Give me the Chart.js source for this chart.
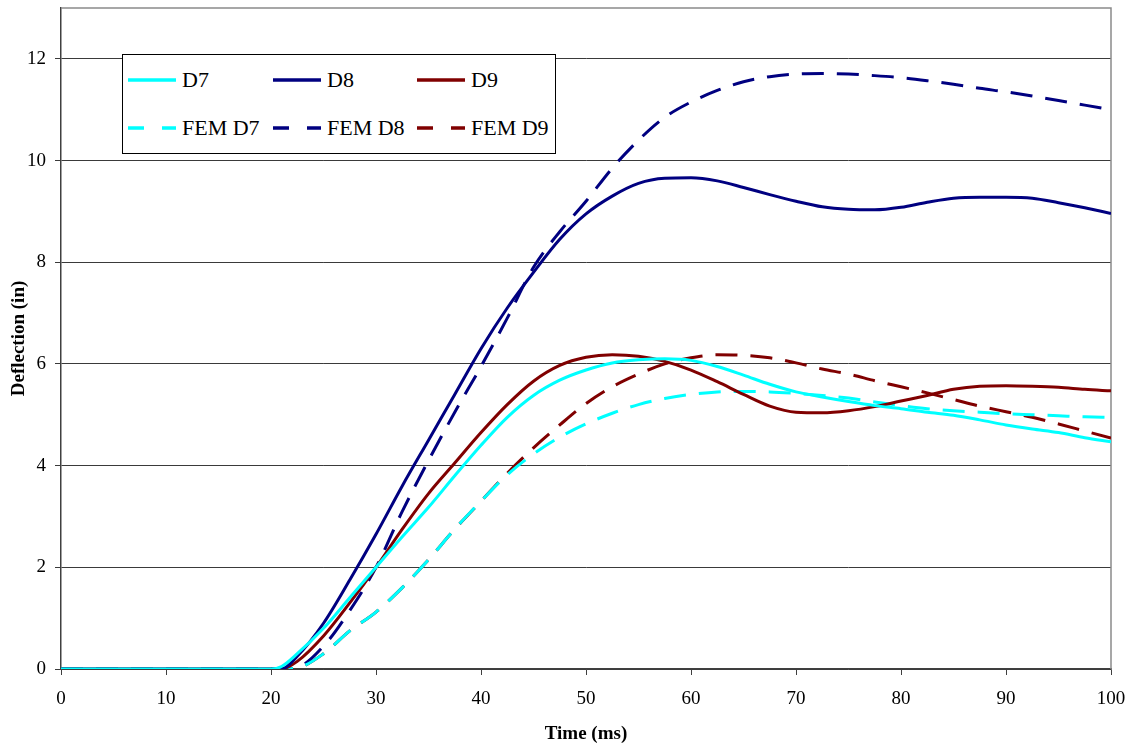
<!DOCTYPE html>
<html>
<head>
<meta charset="utf-8">
<script src="https://cdn.jsdelivr.net/npm/chart.js@4.4.1/dist/chart.umd.min.js"></script>
<style>
  body { margin: 0; background: #fff; }
  #wrap { position: relative; width: 1130px; height: 746px; }
  #legend {
    position: absolute; left: 122px; top: 54px; width: 432px; height: 98px;
    border: 1px solid #000; background: #fff;
    font-family: 'Liberation Serif', 'Times New Roman', serif; font-size: 22px;
    display: grid; grid-template-columns: 145px 144px 143px; grid-template-rows: 49px 48px;
  }
  .item { display: flex; align-items: center; padding-left: 5px; white-space: nowrap; }
  .item svg { margin-right: 6px; }
</style>
</head>
<body>
<div id="wrap">
  <canvas id="deflectionChart" width="1130" height="746"></canvas>
  <div id="legend"></div>
</div>
<script>
// Time axis (ms) shared by all series
const timeMs = [0, 10, 20, 21, 22.5, 25, 27.5, 30, 32.5, 35, 37.5, 40, 42.5, 45, 47.5, 50, 52.5, 55, 57.5, 60,
  62.5, 65, 67.5, 70, 72.5, 75, 77.5, 80, 82.5, 85, 87.5, 90, 92.5, 95, 97.5, 100];

// Measured deflections (in)
const d7 = [0, 0, 0, 0.05, 0.3, 0.8, 1.4, 2.0, 2.6, 3.18, 3.8, 4.4, 4.95, 5.38, 5.68, 5.88, 6.02, 6.08, 6.1, 6.07,
  5.95, 5.78, 5.6, 5.45, 5.35, 5.26, 5.18, 5.12, 5.05, 4.99, 4.9, 4.8, 4.72, 4.65, 4.55, 4.47];
const d8 = [0, 0, 0, 0, 0.25, 0.9, 1.75, 2.65, 3.6, 4.5, 5.4, 6.3, 7.1, 7.8, 8.45, 8.95, 9.3, 9.55, 9.65, 9.66,
  9.6, 9.47, 9.33, 9.2, 9.09, 9.04, 9.03, 9.08, 9.18, 9.26, 9.28, 9.28, 9.26, 9.17, 9.07, 8.96];
const d9 = [0, 0, 0, 0, 0.15, 0.65, 1.3, 2.0, 2.75, 3.45, 4.05, 4.65, 5.2, 5.66, 5.97, 6.13, 6.18, 6.15, 6.05, 5.88,
  5.65, 5.4, 5.17, 5.05, 5.04, 5.08, 5.16, 5.27, 5.38, 5.5, 5.56, 5.57, 5.56, 5.54, 5.5, 5.47];

// FEM predictions (in)
const femD7 = [0, 0, 0, 0, 0.02, 0.3, 0.75, 1.12, 1.6, 2.15, 2.75, 3.3, 3.82, 4.23, 4.56, 4.82, 5.03, 5.2, 5.32, 5.4,
  5.45, 5.46, 5.45, 5.42, 5.38, 5.33, 5.25, 5.18, 5.12, 5.08, 5.05, 5.02, 5.0, 4.98, 4.96, 4.95];
const femD8 = [0, 0, 0, 0, 0.03, 0.45, 1.15, 2.0, 3.1, 4.1, 5.05, 5.95, 6.9, 7.9, 8.6, 9.2, 9.85, 10.4, 10.85, 11.15,
  11.38, 11.55, 11.65, 11.7, 11.71, 11.7, 11.67, 11.63, 11.57, 11.5, 11.42, 11.35, 11.27, 11.18, 11.09, 11.0];
const femD9 = [0, 0, 0, 0, 0.02, 0.3, 0.75, 1.12, 1.6, 2.15, 2.75, 3.3, 3.85, 4.35, 4.8, 5.22, 5.55, 5.8, 6.0, 6.12,
  6.18, 6.17, 6.12, 6.02, 5.9, 5.8, 5.67, 5.55, 5.43, 5.3, 5.17, 5.06, 4.95, 4.82, 4.68, 4.54];

const xTicks = [0, 10, 20, 30, 40, 50, 60, 70, 80, 90, 100];
const yTicks = [0, 2, 4, 6, 8, 10, 12];

const serif = "'Liberation Serif', 'Times New Roman', serif";
const dash = [22, 13];

function series(label, values, color, dashed) {
  return {
    label,
    data: values.map((v, i) => ({ x: timeMs[i], y: v })),
    borderColor: color,
    backgroundColor: color,
    borderWidth: 3,
    borderDash: dashed ? dash : [],
    pointRadius: 0,
    cubicInterpolationMode: 'monotone',
    fill: false
  };
}

// grey frame on top and right of the plot area
const plotFrame = {
  id: 'plotFrame',
  beforeDatasetsDraw(chart) {
    const { ctx, chartArea: a } = chart;
    ctx.save();
    ctx.strokeStyle = '#8a8a8a';
    ctx.lineWidth = 1.5;
    ctx.beginPath();
    ctx.moveTo(a.left, a.top);
    ctx.lineTo(a.right, a.top);
    ctx.lineTo(a.right, a.bottom);
    ctx.stroke();
    ctx.restore();
  }
};

const chart = new Chart(document.getElementById('deflectionChart'), {
  type: 'line',
  data: {
    datasets: [
      series('D7', d7, '#00FFFF', false),
      series('D8', d8, '#000080', false),
      series('D9', d9, '#800000', false),
      series('FEM D7', femD7, '#00FFFF', true),
      series('FEM D8', femD8, '#000080', true),
      series('FEM D9', femD9, '#800000', true)
    ]
  },
  options: {
    responsive: false,
    animation: false,
    layout: { padding: { top: 8, right: 19, left: 0, bottom: 0 } },
    plugins: {
      legend: { display: false },
      tooltip: { enabled: false }
    },
    scales: {
      x: {
        type: 'linear',
        min: 0,
        max: 100,
        afterBuildTicks: s => { s.ticks = xTicks.map(v => ({ value: v })); },
        afterFit: s => { s.height = 77; s.paddingLeft = 0; s.paddingRight = 0; },
        ticks: { color: '#000', padding: 13, font: { family: serif, size: 19 } },
        grid: { drawOnChartArea: false, tickLength: 6, color: '#404040', lineWidth: 1 },
        border: { color: '#404040', width: 1.5 },
        title: {
          display: true, text: 'Time (ms)', color: '#000',
          font: { family: serif, size: 19, weight: 'bold' }, padding: { top: 0, bottom: 1 }
        }
      },
      y: {
        min: 0,
        max: 13,
        afterBuildTicks: s => { s.ticks = yTicks.map(v => ({ value: v })); },
        afterFit: s => { s.width = 61; s.paddingTop = 0; s.paddingBottom = 0; },
        ticks: { color: '#000', padding: 9, font: { family: serif, size: 19 } },
        grid: { tickLength: 6, color: '#3a3a3a', lineWidth: 1 },
        border: { color: '#404040', width: 1.5 },
        title: {
          display: true, text: 'Deflection (in)', color: '#000',
          font: { family: serif, size: 19, weight: 'bold' }, padding: { top: 8, bottom: 0 }
        }
      }
    }
  },
  plugins: [plotFrame]
});

// legend box drawn from the chart's own datasets
const legendEl = document.getElementById('legend');
chart.data.datasets.forEach(ds => {
  const item = document.createElement('div');
  item.className = 'item';
  const dashAttr = ds.borderDash.length ? ' stroke-dasharray="16 18"' : '';
  item.innerHTML = '<svg width="48" height="6"><line x1="0" y1="3" x2="48" y2="3" stroke="' + ds.borderColor +
    '" stroke-width="3.5"' + dashAttr + '/></svg><span>' + ds.label + '</span>';
  legendEl.appendChild(item);
});
</script>
</body>
</html>
